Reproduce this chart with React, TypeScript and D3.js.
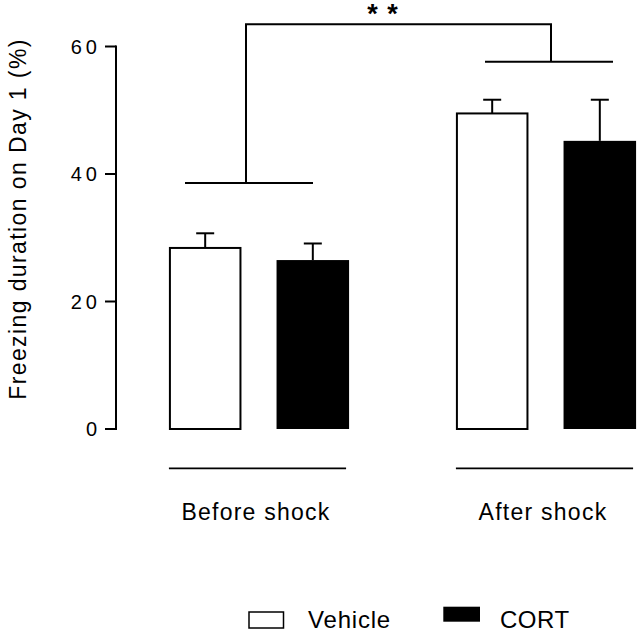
import React from "react";
import * as d3 from "d3";

// Freezing duration on Day 1, mean and SEM per phase and treatment
const phases = ["Before shock", "After shock"];
const treatments = ["Vehicle", "CORT"];
const vehicleMeans = [28.4, 49.5];
const vehicleSem = [2.3, 2.15];
const cortMeans = [26.5, 45.2];
const cortSem = [2.6, 6.45];
const yTicks = [0, 20, 40, 60];

// Significance bracket levels, in axis units
const bracketPhaseLevels = [38.6, 57.6];
const bracketTopLevel = 63.5;
const bracketLabel = "* *";

const W = 637;
const H = 632;
const FONT = "'Liberation Sans', Arial, Helvetica, sans-serif";

export default function App() {
  const y = d3.scaleLinear().domain([0, 60]).range([429, 46.5]);
  const xPhase = d3.scaleBand<string>().domain(phases).range([115.5, 689.5]).paddingInner(0).paddingOuter(0);
  const xTreat = d3
    .scaleBand<string>()
    .domain(treatments)
    .range([0, xPhase.bandwidth() * 0.75])
    .paddingInner(0.326)
    .paddingOuter(0.163);

  const groupLeft = (p: string) => (xPhase(p) as number) + xPhase.bandwidth() / 2 - xTreat.range()[1] / 2;

  const rows = phases.flatMap((p, i) => [
    { phase: p, treat: "Vehicle", mean: vehicleMeans[i], sem: vehicleSem[i] },
    { phase: p, treat: "CORT", mean: cortMeans[i], sem: cortSem[i] },
  ]);

  const barX = (r: { phase: string; treat: string }) => groupLeft(r.phase) + (xTreat(r.treat) as number);
  const bw = xTreat.bandwidth();
  const capHalf = 9;

  const axisX = 116;

  // bracket horizontal lines: centered slightly differently per phase
  const bracketCenters = phases.map((p, i) => {
    const c = groupLeft(p) + xTreat.range()[1] / 2;
    return i === 0 ? c - 10 : c + 3;
  });
  const bracketHalf = 64;

  return (
    <svg width={W} height={H} style={{ position: "absolute", left: 0, top: 0, background: "#fff" }}>
      <rect x={0} y={0} width={W} height={H} fill="#fff" />
      {/* y axis */}
      <line x1={axisX} x2={axisX} y1={y(60) - 1} y2={y(0) + 1} stroke="#000" strokeWidth={2} />
      {yTicks.map((t) => (
        <g key={t}>
          <line x1={axisX - 11} x2={axisX} y1={y(t)} y2={y(t)} stroke="#000" strokeWidth={2} />
          <text
            x={101}
            y={y(t)}
            dy="0.35em"
            textAnchor="end"
            fontFamily={FONT}
            fontSize={20}
            letterSpacing={4}
            fill="#000"
          >
            {t}
          </text>
        </g>
      ))}
      <text
        transform={`translate(26,219) rotate(-90)`}
        textAnchor="middle"
        fontFamily={FONT}
        fontSize={23}
        letterSpacing={1.4}
        fill="#000"
      >
        Freezing duration on Day 1 (%)
      </text>

      {/* bars */}
      {rows.map((r) => {
        const x0 = barX(r);
        const isVeh = r.treat === "Vehicle";
        return (
          <g key={r.phase + r.treat}>
            <line
              x1={x0 + bw / 2}
              x2={x0 + bw / 2}
              y1={y(r.mean)}
              y2={y(r.mean + r.sem)}
              stroke="#000"
              strokeWidth={2}
            />
            <line
              x1={x0 + bw / 2 - capHalf}
              x2={x0 + bw / 2 + capHalf}
              y1={y(r.mean + r.sem)}
              y2={y(r.mean + r.sem)}
              stroke="#000"
              strokeWidth={2}
            />
            <rect
              x={x0 + (isVeh ? 1 : 0)}
              y={y(r.mean)}
              width={bw - (isVeh ? 2 : 0)}
              height={y(0) - y(r.mean)}
              fill={isVeh ? "#fff" : "#000"}
              stroke="#000"
              strokeWidth={isVeh ? 2 : 0}
            />
          </g>
        );
      })}

      {/* phase underlines and labels */}
      {phases.map((p) => {
        const gl = groupLeft(p) + (xTreat(treatments[0]) as number);
        const gr = groupLeft(p) + (xTreat(treatments[1]) as number) + bw;
        const cx = (xPhase(p) as number) + xPhase.bandwidth() / 2;
        return (
          <g key={p}>
            <line x1={gl} x2={gr - 3} y1={468.3} y2={468.3} stroke="#000" strokeWidth={1.8} />
            <text
              x={cx - 3}
              y={520}
              textAnchor="middle"
              fontFamily={FONT}
              fontSize={23}
              letterSpacing={1.25}
              fill="#000"
            >
              {p}
            </text>
          </g>
        );
      })}

      {/* significance bracket */}
      {phases.map((p, i) => (
        <line
          key={"bh" + p}
          x1={bracketCenters[i] - bracketHalf}
          x2={bracketCenters[i] + bracketHalf}
          y1={y(bracketPhaseLevels[i])}
          y2={y(bracketPhaseLevels[i])}
          stroke="#000"
          strokeWidth={2}
        />
      ))}
      <path
        d={`M${bracketCenters[0] - 3},${y(bracketPhaseLevels[0])} V${y(bracketTopLevel)} H${bracketCenters[1] + 2} V${y(
          bracketPhaseLevels[1]
        )}`}
        fill="none"
        stroke="#000"
        strokeWidth={2}
      />
      <text
        x={(bracketCenters[0] + bracketCenters[1]) / 2 - 16}
        y={23}
        textAnchor="middle"
        fontFamily={FONT}
        fontSize={27}
        fontWeight="bold"
        letterSpacing={1}
        fill="#000"
      >
        {bracketLabel}
      </text>

      {/* legend */}
      <rect x={249} y={612} width={34.5} height={16} fill="#fff" stroke="#000" strokeWidth={1.5} />
      <text x={308} y={628} fontFamily={FONT} fontSize={24} letterSpacing={0.8} fill="#000">
        {treatments[0]}
      </text>
      <rect x={443.3} y={606.7} width={36.7} height={15} fill="#000" />
      <text x={500} y={628} fontFamily={FONT} fontSize={24} letterSpacing={0.5} fill="#000">
        {treatments[1]}
      </text>
    </svg>
  );
}
